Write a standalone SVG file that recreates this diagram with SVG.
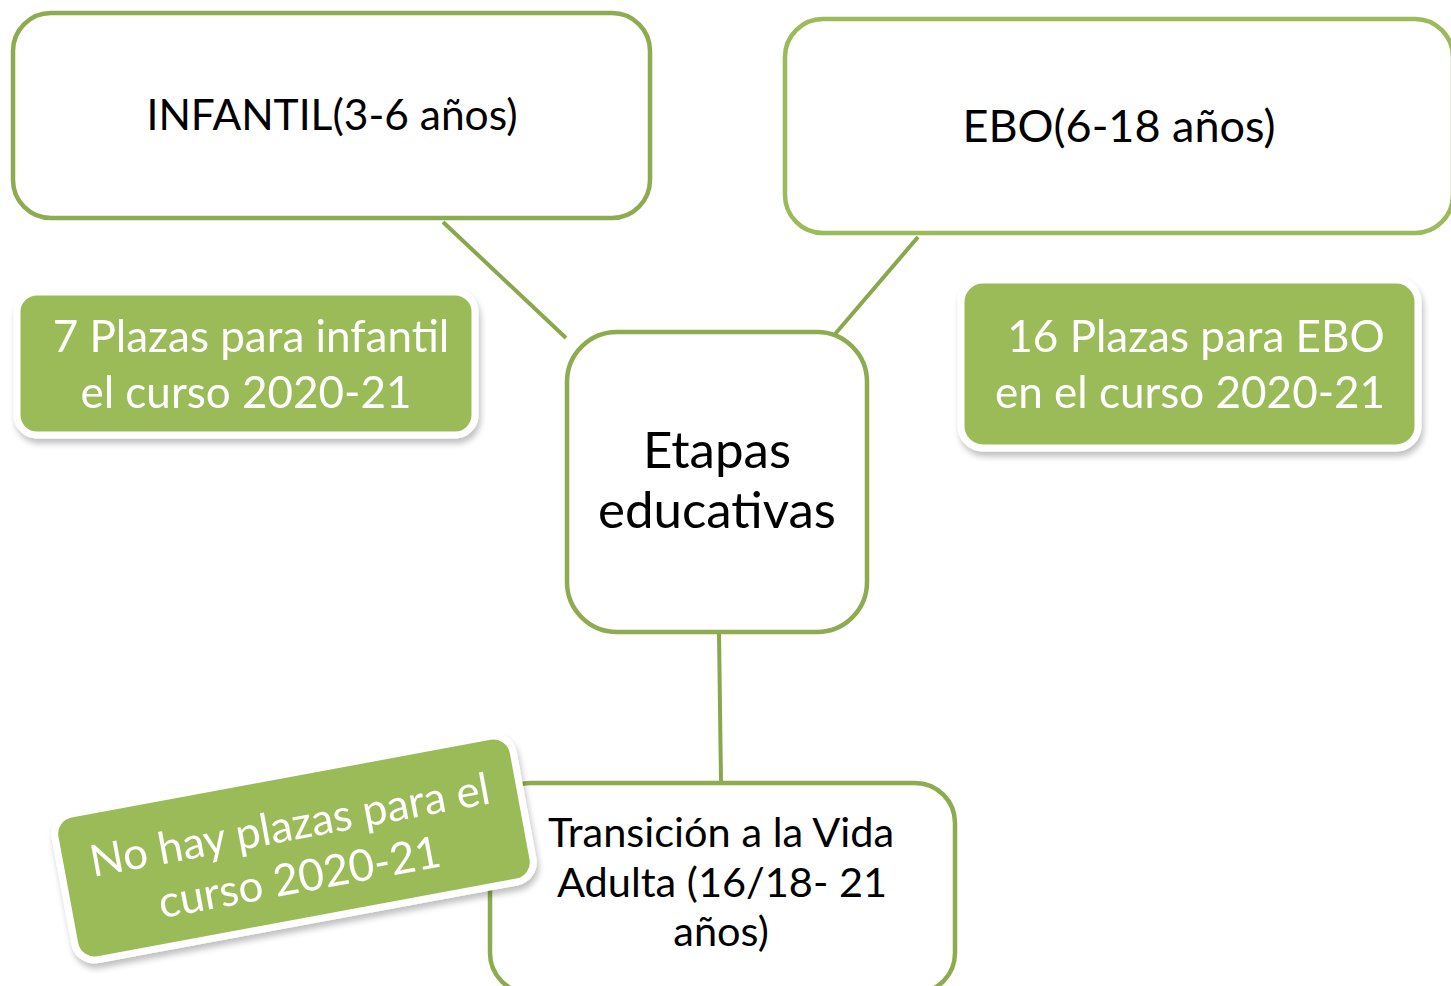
<svg xmlns="http://www.w3.org/2000/svg" width="1451" height="986" viewBox="0 0 1451 986">
<defs>
<filter id="sh" x="-10%" y="-10%" width="120%" height="130%">
<feGaussianBlur in="SourceAlpha" stdDeviation="3"/>
<feOffset dx="2" dy="5" result="b"/>
<feComponentTransfer><feFuncA type="linear" slope="0.25"/></feComponentTransfer>
<feMerge><feMergeNode/><feMergeNode in="SourceGraphic"/></feMerge>
</filter>
</defs>
<style>
.box{fill:#ffffff;stroke:#8eab50;stroke-width:4.5}
.box2{fill:#ffffff;stroke:#9bbb59;stroke-width:4.5}
.gbox{fill:#9bbb59;stroke:#ffffff;stroke-width:7}
.t{font-family:"Lato","Open Sans",sans-serif;fill:#000000;text-anchor:middle}
.w{font-family:"Lato","Open Sans",sans-serif;fill:#ffffff;text-anchor:middle}
.con{stroke:#8aa74e;stroke-width:4;fill:none}
</style>
<rect width="1451" height="986" fill="#ffffff"/>
<g id="connectors">
<line class="con" x1="443" y1="222" x2="566" y2="338"/>
<line class="con" x1="918" y1="237" x2="830" y2="340" stroke="#9bbb59"/>
<line class="con" x1="719" y1="633" x2="721" y2="782"/>
</g>
<g id="infantil">
<rect class="box" x="13" y="13" width="637" height="205" rx="38"/>
<text class="t" x="332" y="130" font-size="42.5">INFANTIL(3-6 años)</text>
</g>
<g id="ebo">
<rect class="box2" x="785" y="19" width="668" height="214" rx="38"/>
<text class="t" x="1119" y="142" font-size="45">EBO(6-18 años)</text>
</g>
<g id="etapas">
<rect class="box" x="567" y="332" width="300" height="300" rx="50"/>
<text class="t" x="717" y="468" font-size="51">Etapas</text>
<text class="t" x="717" y="528" font-size="51">educativas</text>
</g>
<g id="tva">
<rect class="box" x="490" y="783" width="465" height="210" rx="40"/>
<text class="t" x="721" y="847" font-size="41.5">Transición a la Vida</text>
<text class="t" x="722" y="897" font-size="41.5">Adulta (16/18- 21</text>
<text class="t" x="721" y="946" font-size="41.5">años)</text>
</g>
<g id="plazas-infantil" filter="url(#sh)">
<rect class="gbox" x="17" y="292" width="458" height="143" rx="20"/>
<text class="w" x="251" y="352" font-size="44">7 Plazas para infantil</text>
<text class="w" x="246" y="408" font-size="44">el curso 2020-21</text>
</g>
<g id="plazas-ebo" filter="url(#sh)">
<rect class="gbox" x="961" y="280" width="457" height="168" rx="22"/>
<text class="w" x="1196" y="352" font-size="44">16 Plazas para EBO</text>
<text class="w" x="1190" y="408" font-size="44">en el curso 2020-21</text>
</g>
<g id="no-plazas" filter="url(#sh)">
<g transform="translate(294 848) rotate(-10.5)">
<rect class="gbox" x="-233" y="-74" width="466" height="148" rx="20"/>
<text class="w" x="0" y="-8" font-size="44">No hay plazas para el</text>
<text class="w" x="0" y="45" font-size="44">curso 2020-21</text>
</g>
</g>
</svg>
